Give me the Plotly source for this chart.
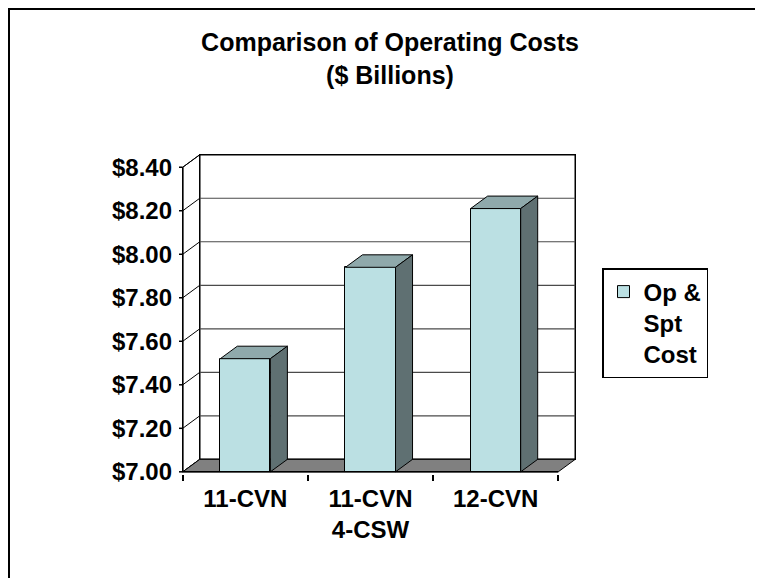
import plotly.graph_objects as go

# ---------------- data ----------------
categories = ["11-CVN", "11-CVN<br>4-CSW", "12-CVN"]
op_spt_cost = [7.52, 7.94, 8.21]
y_ticks = [7.00, 7.20, 7.40, 7.60, 7.80, 8.00, 8.20, 8.40]
y_tick_labels = ["$7.00", "$7.20", "$7.40", "$7.60", "$7.80", "$8.00", "$8.20", "$8.40"]
series_name = "Op &<br>Spt<br>Cost"
title_text = "Comparison of Operating Costs<br>($ Billions)"

# ---------------- styling / geometry ----------------
OFF = 8                      # page body margin of the browser
W, H = 755, 570
ML, MT = 171, 145
PW, PH = 400, 321
MR, MB = W - ML - PW, H - MT - PH
BAR_W = 0.4
DX = 0.136      # 3-D depth (category units)
DY = 0.0574     # 3-D depth (value units)
FRONT, TOP, SIDE = "#BBE0E3", "#8FA9AB", "#5F7072"
FLOOR = "#808080"
GRID = "#4a4a4a"
FONT = dict(family="Liberation Sans, Arial, sans-serif", size=24, color="black", weight="bold")
TFONT = dict(FONT, size=25)

n = len(categories)
pos = list(range(n))
Y0, YT = y_ticks[0], y_ticks[-1]
XL, XR = pos[0] - 0.5, pos[-1] + 0.5
xrange = [XL - 0.03, XR + DX + 0.03]
yrange = [Y0 - 0.01, YT + DY + 0.008]
SX = PW / (xrange[1] - xrange[0])


def px2paper(sx, sy):
    fx, fy = sx - OFF, sy - OFF
    return (fx - ML) / PW, (H - MB - fy) / PH


fig = go.Figure()

# front faces of the columns
fig.add_trace(go.Bar(
    x=pos, y=[v - Y0 for v in op_spt_cost], base=Y0, width=BAR_W,
    marker=dict(color=FRONT, line=dict(color="black", width=1)),
    name=series_name, showlegend=True, hoverinfo="skip"))

# top and side faces
for p, v in zip(pos, op_spt_cost):
    a, b = p - BAR_W / 2, p + BAR_W / 2
    fig.add_trace(go.Scatter(
        x=[a, b, b + DX, a + DX, a], y=[v, v, v + DY, v + DY, v],
        mode="lines", fill="toself", fillcolor=TOP,
        line=dict(color="black", width=1), showlegend=False, hoverinfo="skip"))
    fig.add_trace(go.Scatter(
        x=[b, b, b + DX, b + DX, b], y=[Y0, v, v + DY, Y0 + DY, Y0],
        mode="lines", fill="toself", fillcolor=SIDE,
        line=dict(color="black", width=1), showlegend=False, hoverinfo="skip"))

# front axis lines and y tick marks
fig.add_trace(go.Scatter(x=[XL, XL], y=[Y0, YT], mode="lines",
                         line=dict(color="black", width=1.5), showlegend=False, hoverinfo="skip"))
fig.add_trace(go.Scatter(x=[XL, XR], y=[Y0, Y0], mode="lines",
                         line=dict(color="black", width=1.5), showlegend=False, hoverinfo="skip"))
tx, ty = [], []
for t in y_ticks:
    tx += [XL - 5 / SX, XL, None]
    ty += [t, t, None]
fig.add_trace(go.Scatter(x=tx, y=ty, mode="lines",
                         line=dict(color="black", width=1.5), showlegend=False, hoverinfo="skip"))

# walls, gridlines, floor (below traces)
shapes = []
shapes.append(dict(type="path", layer="below", xref="x", yref="y",
                   path=f"M{XL},{Y0} L{XL},{YT} L{XL+DX},{YT+DY} L{XL+DX},{Y0+DY} Z",
                   fillcolor="white", line=dict(color="black", width=1)))
shapes.append(dict(type="rect", layer="below", xref="x", yref="y",
                   x0=XL + DX, x1=XR + DX, y0=Y0 + DY, y1=YT + DY,
                   fillcolor="white", line=dict(color="black", width=1.5)))
for t in y_ticks[1:-1]:
    shapes.append(dict(type="line", layer="below", xref="x", yref="y",
                       x0=XL + DX, x1=XR + DX, y0=t + DY, y1=t + DY,
                       line=dict(color=GRID, width=1.2)))
for t in y_ticks:
    shapes.append(dict(type="line", layer="below", xref="x", yref="y",
                       x0=XL, x1=XL + DX, y0=t, y1=t + DY,
                       line=dict(color="black", width=1)))
shapes.append(dict(type="path", layer="below", xref="x", yref="y",
                   path=f"M{XL},{Y0} L{XR},{Y0} L{XR+DX},{Y0+DY} L{XL+DX},{Y0+DY} Z",
                   fillcolor=FLOOR, line=dict(color="black", width=1)))

# outer chart border (top and left only visible)
bx0, by0 = px2paper(9, 600)
bx1, by1 = px2paper(9, 9)
bx2, by2 = px2paper(790, 9)
shapes.append(dict(type="path", xref="paper", yref="paper",
                   path=f"M{bx0},{by0} L{bx1},{by1} L{bx2},{by2}",
                   line=dict(color="black", width=2)))

lx, ly = px2paper(602, 268)

fig.update_layout(
    width=W, height=H,
    margin=dict(l=ML, r=MR, t=MT, b=MB, autoexpand=False),
    paper_bgcolor="white", plot_bgcolor="white",
    font=FONT,
    title=dict(text=title_text, x=(390 - OFF) / W, xanchor="center",
               y=1 - (51 - OFF) / H, yanchor="top", font=TFONT),
    xaxis=dict(range=xrange, tickmode="array", tickvals=pos, ticktext=categories,
               ticks="", showgrid=False, zeroline=False, showline=False,
               tickfont=FONT, ticklabelstandoff=8, automargin=False,
               minor=dict(tickmode="array", tickvals=[p - 0.5 for p in pos] + [pos[-1] + 0.5],
                          ticks="outside", ticklen=6, tickcolor="black", tickwidth=1.5)),
    yaxis=dict(range=yrange, tickmode="array", tickvals=y_ticks, ticktext=y_tick_labels,
               ticks="", showgrid=False, zeroline=False, showline=False,
               tickfont=FONT, ticklabelstandoff=6, automargin=False),
    legend=dict(x=lx, y=ly, xanchor="left", yanchor="top", bgcolor="white",
                bordercolor="black", borderwidth=1.5, font=FONT, valign="top"),
    shapes=shapes,
    bargap=0,
)

fig.write_html("out.html")
